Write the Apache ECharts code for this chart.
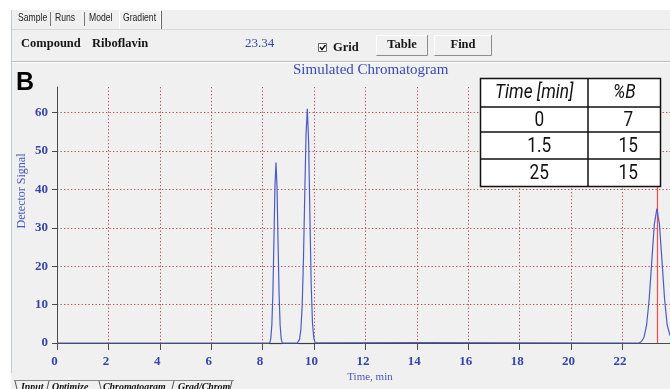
<!DOCTYPE html>
<html>
<head>
<meta charset="utf-8">
<script src="https://cdn.jsdelivr.net/npm/echarts@6/dist/echarts.min.js"></script>
<style>
  html, body { margin: 0; padding: 0; background: #ffffff; overflow: hidden; }
  #chart { width: 670px; height: 389px; }
</style>
</head>
<body>
<div id="chart"></div>
<script>
// Axis ticks
const timeTicks = [0, 2, 4, 6, 8, 10, 12, 14, 16, 18, 20, 22];
const signalTicks = [0, 10, 20, 30, 40, 50, 60];

// Detector trace, [time (min), signal]
const leadIn = [[0, 0], [8.28, 0]];
const peak1 = [[8.32, 1.3], [8.36, 4.8], [8.40, 13.1], [8.44, 26.6], [8.48, 40.8], [8.52, 47],
               [8.56, 40.8], [8.60, 26.6], [8.64, 13.1], [8.68, 4.8], [8.72, 1.3], [8.76, 0]];
const peak2 = [[9.35, 0], [9.39, 0.2], [9.44, 1.0], [9.49, 3.6], [9.54, 9.9], [9.59, 22.0], [9.64, 38.8],
               [9.69, 54.5], [9.74, 61], [9.79, 52.3], [9.84, 32.9], [9.89, 15.2], [9.94, 5.2],
               [9.99, 1.3], [10.04, 0.2], [10.08, 0]];
const peak3 = [[22.64, 0], [22.74, 0.4], [22.84, 1.5], [22.94, 4.7], [23.04, 11.4], [23.14, 21.2],
               [23.24, 30.9], [23.34, 35], [23.44, 30.9], [23.54, 21.2], [23.64, 11.4], [23.74, 4.7],
               [23.84, 2.2], [23.94, 0.8]];

// Integration baselines drawn under each peak, [start, end] in minutes
const peakBaselines = [[8.28, 8.74], [9.40, 10.02], [22.68, 23.9]];

// Selected compound and its retention time
const compoundName = 'Riboflavin';
const selectedTime = 23.34;

// Gradient program
const gradHeader = ['Time [min]', '%B'];
const gradTimes = ['0', '1.5', '25'];
const gradB = ['7', '15', '15'];

const chart = echarts.init(document.getElementById('chart'), null, { renderer: 'canvas' });

const serif = '"Liberation Serif", "DejaVu Serif", serif';
const sans = '"Liberation Sans", Arimo, "DejaVu Sans", sans-serif';
const tableFont = 'Roboto, "Liberation Sans", sans-serif';
const axisBlue = '#3545a8';
const textBlue = '#4a58bd';

const trace = leadIn.concat(peak1, peak2, peak3);

// ---- interface chrome around the plot ----
const ui = [];
// panel frame
ui.push({ type: 'rect', shape: { x: 0, y: 0, width: 670, height: 10 }, style: { fill: '#ffffff' }, z: 0 });
ui.push({ type: 'rect', shape: { x: 0, y: 0, width: 11, height: 389 }, style: { fill: '#ffffff' }, z: 0 });
ui.push({ type: 'line', shape: { x1: 11.5, y1: 10, x2: 11.5, y2: 373 }, style: { stroke: '#bccbe0', lineWidth: 1 }, z: 1 });
ui.push({ type: 'line', shape: { x1: 12, y1: 29.5, x2: 670, y2: 29.5 }, style: { stroke: '#d8d8d8', lineWidth: 1 }, z: 1 });
ui.push({ type: 'line', shape: { x1: 12, y1: 61.5, x2: 670, y2: 61.5 }, style: { stroke: '#bdbdbd', lineWidth: 1 }, z: 1 });
ui.push({ type: 'line', shape: { x1: 12, y1: 62.5, x2: 670, y2: 62.5 }, style: { stroke: '#ffffff', lineWidth: 1 }, z: 1 });

// top tab strip
const topTabs = [['Sample', 18], ['Runs', 55], ['Model', 89], ['Gradient', 123]];
topTabs.forEach(([t, x]) => {
  ui.push({ type: 'text', x: x, y: 18, scaleX: 0.82,
            style: { text: t, font: '10.5px ' + sans, fill: '#222', verticalAlign: 'middle' }, z: 2 });
});
[50.5, 84.5].forEach(x => {
  ui.push({ type: 'line', shape: { x1: x, y1: 12, x2: x, y2: 26 }, style: { stroke: '#777', lineWidth: 1 }, z: 2 });
});
ui.push({ type: 'polyline', shape: { points: [[119.5, 29], [119.5, 10.5], [160.5, 10.5], [160.5, 29]] },
          style: { stroke: '#ffffff', lineWidth: 1, fill: null }, z: 2 });
ui.push({ type: 'line', shape: { x1: 161.5, y1: 11, x2: 161.5, y2: 29 }, style: { stroke: '#666', lineWidth: 1 }, z: 2 });

// header row
ui.push({ type: 'text', x: 21, y: 44, style: { text: 'Compound', font: 'bold 12.5px ' + serif, fill: '#151515', verticalAlign: 'middle' }, z: 2 });
ui.push({ type: 'text', x: 92, y: 44, style: { text: compoundName, font: 'bold 12.5px ' + serif, fill: '#151515', verticalAlign: 'middle' }, z: 2 });
ui.push({ type: 'text', x: 245, y: 44, style: { text: selectedTime.toFixed(2), font: '13px ' + serif, fill: axisBlue, verticalAlign: 'middle' }, z: 2 });

// grid checkbox
ui.push({ type: 'rect', shape: { x: 318.5, y: 43.5, width: 8, height: 8 }, style: { fill: '#ffffff', stroke: '#666', lineWidth: 1 }, z: 2 });
ui.push({ type: 'polyline', shape: { points: [[320, 47], [322, 49.5], [325.5, 45]] }, style: { stroke: '#111', lineWidth: 1.5, fill: null }, z: 3 });
ui.push({ type: 'text', x: 333, y: 48, style: { text: 'Grid', font: 'bold 12.5px ' + serif, fill: '#151515', verticalAlign: 'middle' }, z: 2 });

// buttons
function button(x, w, label) {
  ui.push({ type: 'rect', shape: { x: x, y: 35, width: w, height: 20 }, style: { fill: '#f0f0f0' }, z: 2 });
  ui.push({ type: 'polyline', shape: { points: [[x + 0.5, 55], [x + 0.5, 35.5], [x + w, 35.5]] }, style: { stroke: '#ffffff', lineWidth: 1, fill: null }, z: 3 });
  ui.push({ type: 'polyline', shape: { points: [[x + 0.5, 55.5], [x + w - 0.5, 55.5], [x + w - 0.5, 35]] }, style: { stroke: '#8c8c8c', lineWidth: 1, fill: null }, z: 3 });
  ui.push({ type: 'text', x: x + w / 2, y: 45, style: { text: label, font: 'bold 12.5px ' + serif, fill: '#151515', align: 'center', verticalAlign: 'middle' }, z: 3 });
}
button(376, 52, 'Table');
button(434, 58, 'Find');

// panel letter
ui.push({ type: 'text', x: 16, y: 83, style: { text: 'B', font: 'bold 25px ' + sans, fill: '#000', verticalAlign: 'middle' }, z: 2 });

// axis titles
ui.push({ type: 'text', x: 22, y: 191, rotation: Math.PI / 2,
          style: { text: 'Detector Signal', font: '12px ' + serif, fill: textBlue, align: 'center', verticalAlign: 'middle' }, z: 2 });
ui.push({ type: 'text', x: 370, y: 377,
          style: { text: 'Time, min', font: '11px ' + serif, fill: textBlue, align: 'center', verticalAlign: 'middle' }, z: 2 });

// bottom tab strip
ui.push({ type: 'line', shape: { x1: 14, y1: 380.5, x2: 234, y2: 380.5 }, style: { stroke: '#888', lineWidth: 1 }, z: 2 });
const bottomTabs = [['Input', 21], ['Optimize', 52], ['Chromatogram', 103], ['Grad/Chrom', 178]];
bottomTabs.forEach(([t, x]) => {
  ui.push({ type: 'text', x: x, y: 382, scaleX: 0.9,
            style: { text: t, font: 'italic bold 11px ' + serif, fill: '#111', verticalAlign: 'top' }, z: 2 });
});
[[15, 17], [49, 47], [99, 101], [174, 172], [232, 230]].forEach(([a, b]) => {
  ui.push({ type: 'line', shape: { x1: a, y1: 381, x2: b, y2: 389 }, style: { stroke: '#555', lineWidth: 1 }, z: 2 });
});

// gradient table
const tx = 480.5, ty = 78.5, tw = 180, colX = 588;
const rowY = [78.5, 107, 132, 159, 186.5];
ui.push({ type: 'rect', shape: { x: tx, y: ty, width: tw, height: rowY[4] - ty }, style: { fill: '#ffffff', stroke: '#111', lineWidth: 1.5 }, z: 50 });
ui.push({ type: 'line', shape: { x1: colX, y1: ty, x2: colX, y2: rowY[4] }, style: { stroke: '#111', lineWidth: 1.5 }, z: 51 });
rowY.slice(1, 4).forEach(y => {
  ui.push({ type: 'line', shape: { x1: tx, y1: y, x2: tx + tw, y2: y }, style: { stroke: '#111', lineWidth: 1.5 }, z: 51 });
});
const c1 = (tx + colX) / 2, c2 = (colX + tx + tw) / 2;
function cell(x, y, t, italic) {
  ui.push({ type: 'text', x: x, y: y, scaleX: 0.86,
            style: { text: t, font: (italic ? 'italic ' : '') + '20px ' + tableFont, fill: '#111', align: 'center', verticalAlign: 'middle' }, z: 52 });
}
cell(c1, (rowY[0] + rowY[1]) / 2, gradHeader[0], true);
cell(c2, (rowY[0] + rowY[1]) / 2, gradHeader[1], true);
gradTimes.forEach((t, i) => {
  const cy = (rowY[i + 1] + rowY[i + 2]) / 2 + 1;
  cell(c1 + 5, cy, t, false);
  cell(c2 + 4, cy, gradB[i], false);
});

const option = {
  animation: false,
  backgroundColor: '#f0f0f0',
  title: {
    text: 'Simulated Chromatogram',
    left: 293, top: 63, padding: 0,
    textStyle: { fontFamily: serif, fontWeight: 'normal', fontSize: 15, color: '#3a4ab4' }
  },
  grid: { left: 57, right: 0, top: 87, bottom: 46, containLabel: false },
  xAxis: {
    type: 'value', min: 0, max: 23.85, interval: 2,
    axisLine: { lineStyle: { color: '#4a4a4a', width: 1 } },
    axisTick: { show: true, length: 7, customValues: timeTicks, lineStyle: { color: '#4a4a4a' } },
    axisLabel: { customValues: timeTicks, margin: 12, color: axisBlue, fontFamily: serif, fontWeight: 'bold', fontSize: 13, padding: [0, 5, 0, 0] },
    splitLine: { show: true, lineStyle: { color: '#b84c4c', type: [1.3, 2.2], width: 1 } }
  },
  yAxis: {
    type: 'value', min: 0, max: 66.7, interval: 10,
    axisLine: { show: true, lineStyle: { color: '#4a4a4a', width: 1 } },
    axisTick: { show: true, length: 5, customValues: signalTicks, lineStyle: { color: '#4a4a4a' } },
    axisLabel: { customValues: signalTicks, margin: 9, color: axisBlue, fontFamily: serif, fontWeight: 'bold', fontSize: 13 },
    splitLine: { show: true, lineStyle: { color: '#b84c4c', type: [1.3, 2.2], width: 1 } }
  },
  graphic: ui,
  series: [
    {
      name: 'Detector Signal',
      type: 'line',
      data: trace,
      showSymbol: false,
      smooth: false,
      clip: true,
      z: 5,
      lineStyle: { color: '#4b5bc6', width: 1.2 },
      markLine: {
        silent: true,
        symbol: ['none', 'none'],
        label: { show: false },
        data: [{ xAxis: selectedTime, lineStyle: { color: '#ff4a4a', width: 1.2, type: 'solid' } }]
          .concat(peakBaselines.map(([a, b]) => [
            { coord: [a, 0], lineStyle: { color: '#3c3c3c', width: 1.2, type: 'solid' } },
            { coord: [b, 0] }
          ]))
      }
    }
  ]
};

chart.setOption(option);
</script>
</body>
</html>
